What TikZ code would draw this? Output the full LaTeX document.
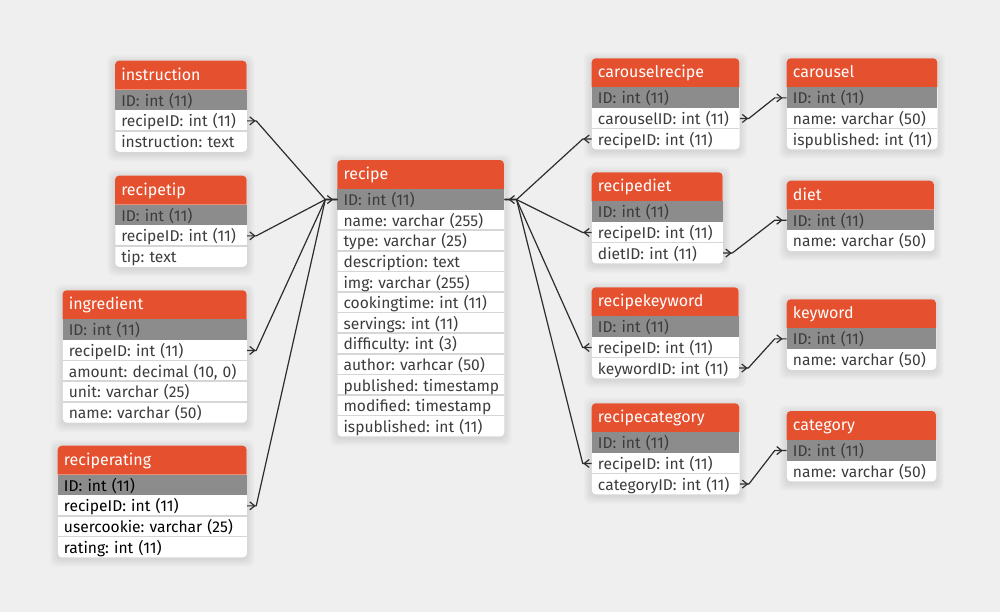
\documentclass[tikz,border=0pt]{standalone}
\usepackage{fontspec}
\setmainfont{Fira Sans}
\frenchspacing
\definecolor{bgc}{RGB}{239,239,239}
\definecolor{hdrc}{RGB}{229,81,47}
\definecolor{idc}{RGB}{140,140,140}
\definecolor{sepc}{RGB}{214,214,214}
\definecolor{rowtext}{RGB}{60,60,60}
\definecolor{linec}{RGB}{45,45,45}
\tikzset{
  tblbg/.style={fill=white, rounded corners=3pt, inner sep=0pt},
  shadowlayer/.style={fill=black, fill opacity=0.013, rounded corners=5pt},
  hdrtxt/.style={text=white, inner xsep=4.5pt, inner ysep=0pt, text height=14.5pt, text depth=7.3pt,
    align=left, font=\fontsize{12}{14}\selectfont},
  rowtxt/.style={inner xsep=4.5pt, inner ysep=0pt, text height=12.3pt, text depth=3.15pt,
    align=left, font=\fontsize{11.7}{14}\selectfont},
  sepline/.style={draw=sepc, line width=1.2pt},
  conn/.style={draw=linec, line width=0.9pt, line join=round},
  chevron/.style={draw=linec, line width=0.9pt, line join=miter},
  chevR/.pic={\draw[chevron] (-5,-4) -- (0,0) -- (-5,4);},
  chevL/.pic={\draw[chevron] (5,-4) -- (0,0) -- (5,4);}
}
% #1 text colour, #2 name, #3 x, #4 top, #5 width, #6 title, #7 rows
\newcommand\dbt[7][rowtext]{%
  \pgfmathsetmacro\tbx{#3}%
  \pgfmathsetmacro\tby{#4}%
  \pgfmathsetmacro\tbw{#5}%
  \foreach \r [count=\k] in {#7} {\xdef\tbn{\k}}%
  \pgfmathsetmacro\tbhp{29+\tbn*20.6}%
  \pgfmathsetmacro\tbh{\tbhp*0.75}%
  \pgfmathsetmacro\tbww{\tbw*0.75}%
  \pgfmathsetmacro\tbtw{(\tbw-12)*0.75}%
  \foreach \s in {1,...,8} {
    \fill[shadowlayer] ({\tbx-\s},{\tby-\s+2}) rectangle ({\tbx+\tbw+\s},{\tby+\tbhp+\s+2});
  }
  \node[tblbg, minimum width=\tbww pt, minimum height=\tbh pt, anchor=north west] (#2) at (\tbx,\tby) {};
  \fill[hdrc, rounded corners=3pt] (\tbx,{\tby+29}) -- (\tbx,\tby) -- ({\tbx+\tbw},\tby) -- ({\tbx+\tbw},{\tby+29});
  \fill[idc] (\tbx,{\tby+29}) rectangle ({\tbx+\tbw},{\tby+49.6});
  \ifnum\tbn>2
    \foreach \k in {3,...,\tbn} {\draw[sepline] (\tbx,{\tby+29+(\k-1)*20.6}) -- ++(\tbw,0);}
  \fi
  \node[hdrtxt, text width=\tbtw pt, anchor=north west] (#2-h) at (\tbx,\tby) {\mbox{#6}};
  \foreach \r [count=\k] in {#7} {
    \node[rowtxt, text=#1, text width=\tbtw pt, anchor=north west] (#2-\k) at (\tbx,{\tby+29+(\k-1)*20.6}) {\mbox{\r}};
  }
}
\begin{document}
\begin{tikzpicture}[x=0.75pt, y=-0.75pt]
\fill[bgc] (0,0) rectangle (1000,612);
\useasboundingbox (0,0) rectangle (1000,612);

\dbt{recipe}{337.3}{160}{166.7}{recipe}{ID: int (11), name: varchar (255), type: varchar (25), description: text, img: varchar (255), cookingtime: int (11), servings: int (11), difficulty: int (3), author: varhcar (50), published: timestamp, modified: timestamp, ispublished: int (11)}

\dbt{inst}{115}{60.7}{131.7}{instruction}{ID: int (11), recipeID: int (11), instruction: text}
\dbt{tip}{115}{175.7}{131.7}{recipetip}{ID: int (11), recipeID: int (11), tip: text}
\dbt{ingr}{62.5}{290.3}{184.2}{ingredient}{ID: int (11), recipeID: int (11), {amount: decimal (10, 0)}, unit: varchar (25), name: varchar (50)}
\dbt[black]{rate}{57.7}{445.7}{189}{reciperating}{ID: int (11), recipeID: int (11), usercookie: varchar (25), rating: int (11)}

\dbt{cr}{591.7}{58.3}{147.6}{carouselrecipe}{ID: int (11), carouselID: int (11), recipeID: int (11)}
\dbt{car}{786.7}{58.3}{150.6}{carousel}{ID: int (11), name: varchar (50), ispublished: int (11)}
\dbt{rd}{591.7}{172.3}{131}{recipediet}{ID: int (11), recipeID: int (11), dietID: int (11)}
\dbt{diet}{786.7}{180.7}{147.3}{diet}{ID: int (11), name: varchar (50)}
\dbt{rk}{591.7}{287.3}{147}{recipekeyword}{ID: int (11), recipeID: int (11), keywordID: int (11)}
\dbt{kw}{786.7}{299.3}{149.3}{keyword}{ID: int (11), name: varchar (50)}
\dbt{rc}{591.7}{403.3}{147.6}{recipecategory}{ID: int (11), recipeID: int (11), categoryID: int (11)}
\dbt{cat}{786.7}{411}{149.3}{category}{ID: int (11), name: varchar (50)}

% left side connectors: FK (east) -> recipe ID (west)
\foreach \t in {inst,tip,ingr,rate} {
  \draw[conn] (\t-2.east) -- ++(9,0) -- ([xshift=-9pt]recipe-1.west) -- (recipe-1.west);
  \pic at ([xshift=5.6pt]\t-2.east) {chevR};
}
\pic at ([xshift=-3.75pt]recipe-1.west) {chevR};

% right side: junction recipeID (west) -> recipe ID (east)
\foreach \t/\r in {cr/3,rd/2,rk/2,rc/2} {
  \draw[conn] (\t-\r.west) -- ++(-9,0) -- ([xshift=9pt]recipe-1.east) -- (recipe-1.east);
  \pic at ([xshift=-5.6pt]\t-\r.west) {chevL};
}
\pic at ([xshift=3.75pt]recipe-1.east) {chevL};

% junction FK (east) -> lookup ID (west)
\foreach \a/\b in {cr-2/car-1, rd-3/diet-1, rk-3/kw-1, rc-3/cat-1} {
  \draw[conn] (\a.east) -- ++(9,0) -- ([xshift=-9pt]\b.west) -- (\b.west);
  \pic at ([xshift=5.6pt]\a.east) {chevR};
  \pic at ([xshift=-3.75pt]\b.west) {chevR};
}
\end{tikzpicture}
\end{document}
